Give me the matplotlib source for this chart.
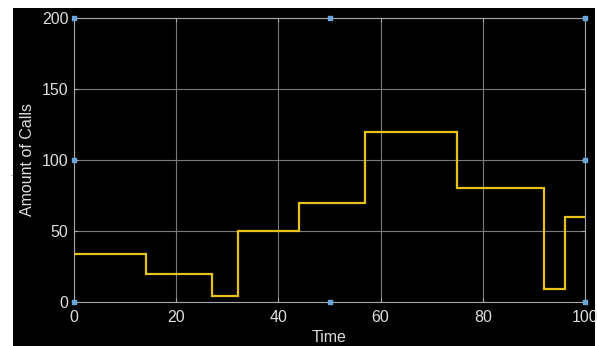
import matplotlib
matplotlib.use("Agg")
import matplotlib.pyplot as plt
from matplotlib.patches import Rectangle
import numpy as np

# Data
step_edges = [0, 14, 27, 32, 44, 57, 75, 92, 96, 100]
step_values = [34, 20, 4, 50, 70, 120, 80, 9, 60]
x_ticks = [0, 20, 40, 60, 80, 100]
y_ticks = [0, 50, 100, 150, 200]
x_label = "Time"
y_label = "Amount of Calls"

plt.rcParams['font.family'] = ['Liberation Sans', 'DejaVu Sans']

W, H = 597, 346
fig = plt.figure(figsize=(W / 100, H / 100), dpi=100)
fig.patch.set_facecolor("white")

# black figure background region
fig.patches.append(Rectangle((13 / W, 0), (595 - 13) / W, (346 - 8) / H,
                             transform=fig.transFigure, facecolor="black",
                             edgecolor="none", zorder=-10))
fig.text(10 / W, 1 - 176 / H, ".", color="#333333", fontsize=6)

left, right, top, bottom = 74, 585, 18, 302
ax = fig.add_axes([left / W, 1 - bottom / H, (right - left) / W, (bottom - top) / H])
ax.set_facecolor("black")

ax.stairs(step_values, step_edges, baseline=None, color="#e8c21c",
          linewidth=1.6, zorder=3)

ax.set_xlim(0, 100)
ax.set_ylim(0, 200)
ax.set_xticks(x_ticks)
ax.set_yticks(y_ticks)
ax.grid(True, color="#7a7a7a", linewidth=0.8)
ax.set_axisbelow(True)
for s in ax.spines.values():
    s.set_color("#a8a8a8")
    s.set_linewidth(0.8)
ax.tick_params(direction="in", length=3, colors="#a8a8a8", labelcolor="#dedede",
               labelsize=11.5, top=True, right=True, pad=4)
ax.tick_params(axis="x", pad=6)
ax.set_xlabel(x_label, color="#dedede", fontsize=11.5, labelpad=3)
ax.set_ylabel(y_label, color="#dedede", fontsize=11.5, labelpad=5)

# selection handles
hx = [0, 0.5, 1, 1, 1, 0.5, 0, 0]
hy = [1, 1, 1, 0.5, 0, 0, 0, 0.5]
ax.scatter(hx, hy, transform=ax.transAxes, s=7, marker="s", color="#6aa6dc",
           clip_on=False, zorder=5)

fig.savefig("out.png", dpi=100, facecolor="white")
